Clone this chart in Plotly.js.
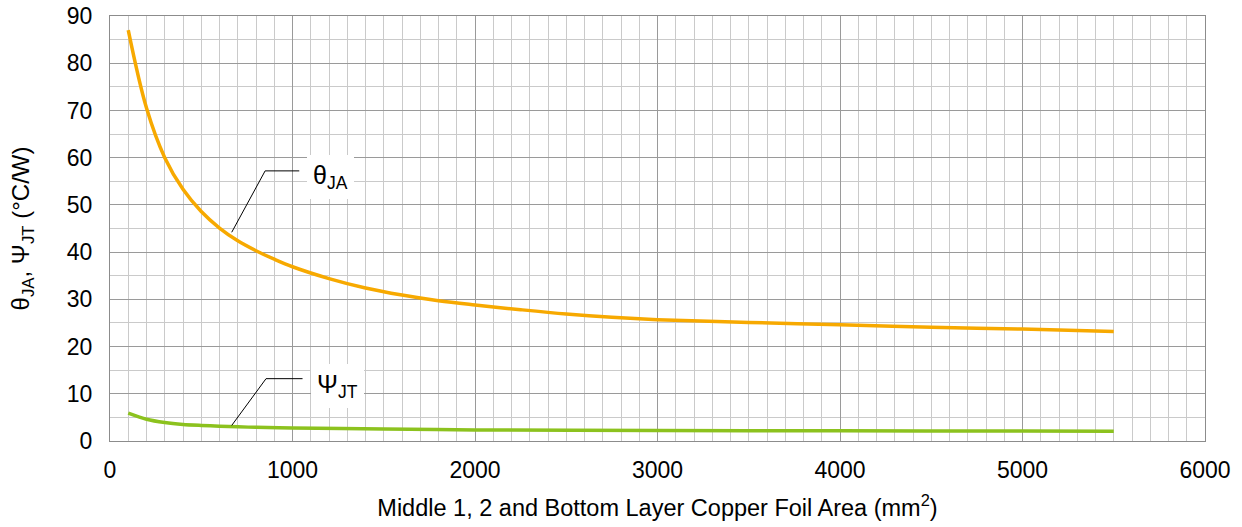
<!DOCTYPE html>
<html>
<head>
<meta charset="utf-8">
<script src="https://cdn.plot.ly/plotly-3.0.1.min.js"></script>
<style>
  html, body { margin: 0; padding: 0; background: #fff; }
  #chart { width: 1242px; height: 527px; }
</style>
</head>
<body>
<div id="chart"></div>
<script>
// Copper foil area (mm²) and thermal metrics (°C/W)
const areaTheta = [100, 200, 300, 400, 500, 600, 700, 800, 900, 1000, 1200, 1400, 1600, 1800, 2000, 2250, 2500, 2750, 3000, 3500, 4000, 4500, 5000, 5500];
const thetaJA   = [87, 70.5, 60, 53.3, 48.6, 45.1, 42.4, 40.3, 38.5, 36.9, 34.4, 32.4, 30.9, 29.7, 28.8, 27.8, 26.9, 26.2, 25.7, 25.1, 24.6, 24.1, 23.7, 23.2];

const areaPsi = [100, 200, 300, 400, 500, 600, 700, 800, 1000, 1500, 2000, 3000, 4000, 5000, 5500];
const psiJT   = [5.9, 4.6, 3.9, 3.5, 3.3, 3.15, 3.0, 2.9, 2.75, 2.55, 2.35, 2.2, 2.15, 2.1, 2.05];

const xTicks = [0, 1000, 2000, 3000, 4000, 5000, 6000];
const yTicks = [0, 10, 20, 30, 40, 50, 60, 70, 80, 90];

// Callout labels: text position and bent leader line (tip, elbow, end)
const calloutTheta = { text: 'θ<sub>JA</sub>', x: 1210, y: 56.0, leader: [[667, 44.2], [850, 57.2], [1037, 57.2]] };
const calloutPsi   = { text: 'Ψ<sub>JT</sub>', x: 1245, y: 11.6, leader: [[667, 3.3], [855, 13.2], [1055, 13.2]] };

const FONT = 'Arial, "Liberation Sans", sans-serif';

const traces = [
  { x: areaTheta, y: thetaJA, type: 'scatter', mode: 'lines',
    line: { color: '#F7A900', width: 3.5, shape: 'spline', smoothing: 1 }, hoverinfo: 'skip' },
  { x: areaPsi, y: psiJT, type: 'scatter', mode: 'lines',
    line: { color: '#8CC21E', width: 3.5, shape: 'spline', smoothing: 0.8 }, hoverinfo: 'skip' }
];

function leaderPath(pts) {
  return 'M ' + pts.map(p => p[0] + ',' + p[1]).join(' L ');
}

const callouts = [calloutTheta, calloutPsi];

const layout = {
  width: 1242, height: 527,
  margin: { l: 110, r: 37, t: 16, b: 86 },
  paper_bgcolor: '#fff', plot_bgcolor: '#fff',
  showlegend: false,
  font: { family: FONT, color: '#000' },
  xaxis: {
    range: [0, 6000], tickvals: xTicks, ticktext: xTicks.map(String),
    showgrid: true, gridcolor: '#9a9a9a', gridwidth: 1,
    minor: { dtick: 100, showgrid: true, gridcolor: '#cacaca', gridwidth: 1 },
    showline: true, mirror: true, linecolor: '#8c8c8c', linewidth: 1,
    zeroline: false, ticks: '', ticklabelstandoff: 8,
    tickfont: { size: 23, family: FONT, color: '#000' },
    title: { text: 'Middle 1, 2 and Bottom Layer Copper Foil Area (mm<sup>2</sup>)', font: { size: 23.5, family: FONT, color: '#000' }, standoff: 17 }
  },
  yaxis: {
    range: [0, 90], tickvals: yTicks, ticktext: yTicks.map(String),
    showgrid: true, gridcolor: '#9a9a9a', gridwidth: 1,
    minor: { dtick: 5, showgrid: true, gridcolor: '#cacaca', gridwidth: 1 },
    showline: true, mirror: true, linecolor: '#8c8c8c', linewidth: 1,
    zeroline: false, ticks: '', ticklabelstandoff: 12,
    tickfont: { size: 23, family: FONT, color: '#000' },
    title: { text: 'θ<sub>JA</sub>, Ψ<sub>JT</sub> (°C/W)', font: { size: 24, family: FONT, color: '#000' }, standoff: 30 }
  },
  shapes: callouts.map(c => ({
    type: 'path', xref: 'x', yref: 'y', path: leaderPath(c.leader),
    line: { color: '#000', width: 1 }, layer: 'above'
  })),
  annotations: callouts.map(c => ({
    x: c.x, y: c.y, xref: 'x', yref: 'y', text: c.text, showarrow: false,
    font: { size: 25, family: FONT, color: '#000' },
    bgcolor: '#fff', borderpad: 6, borderwidth: 0
  }))
};

Plotly.newPlot('chart', traces, layout, { staticPlot: true, displayModeBar: false });
</script>
</body>
</html>
